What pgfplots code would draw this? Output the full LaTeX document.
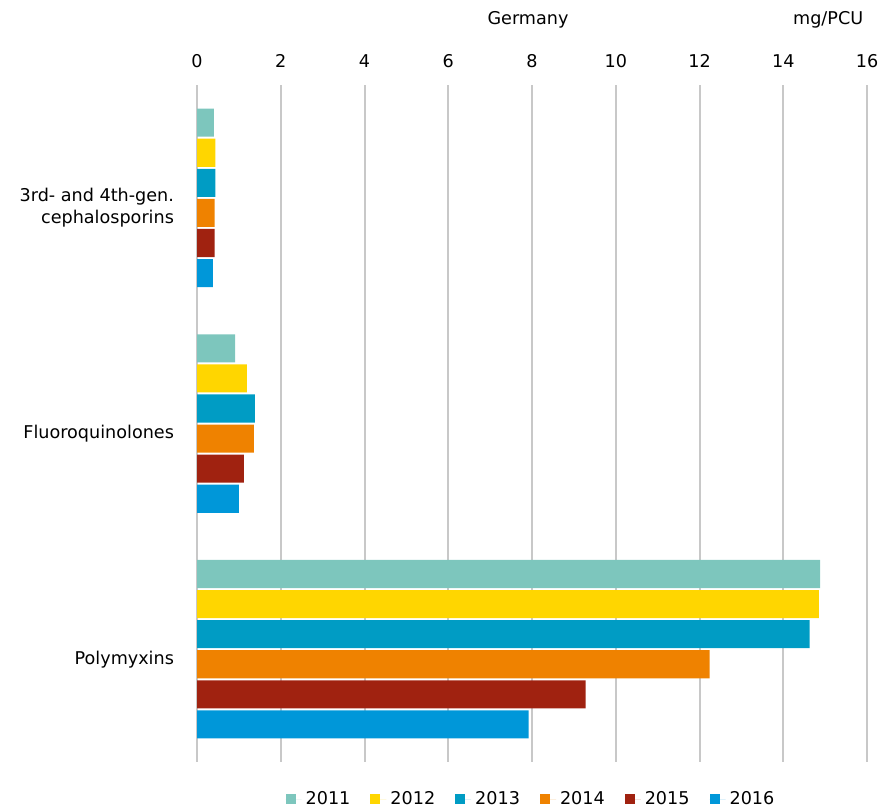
\documentclass[border=0pt]{standalone}
\usepackage{pgfplots}
\pgfplotsset{compat=1.18}
\usepackage{fontspec}
\setmainfont{DejaVu Sans}
\definecolor{c2011}{HTML}{7DC6BD}
\definecolor{c2012}{HTML}{FFD600}
\definecolor{c2013}{HTML}{009CC4}
\definecolor{c2014}{HTML}{EF8200}
\definecolor{c2015}{HTML}{A02210}
\definecolor{c2016}{HTML}{0097D9}
\definecolor{gridgray}{HTML}{C8C8C8}
\begin{document}
\begin{tikzpicture}
\useasboundingbox (0,0) rectangle (441pt,-405pt);
\begin{axis}[
  at={(98.5pt,-42.5pt)}, anchor=north west,
  scale only axis, width=335pt, height=338.5pt,
  xmin=0, xmax=16, ymin=-0.5, ymax=2.5, y dir=reverse,
  xtick={0,2,...,16}, xticklabel pos=upper,
  ytick={0,1,2},
  yticklabels={{3rd- and 4th-gen.\\cephalosporins},Fluoroquinolones,Polymyxins},
  axis line style={draw=none},
  major tick length=0pt,
  xmajorgrids, ymajorgrids=false,
  major grid style={draw=gridgray, line width=1pt},
  /pgf/number format/assume math mode=true,
  tick label style={font=\fontsize{8.8}{11}\selectfont},
  xticklabel style={yshift=5pt},
  yticklabel style={align=right, yshift=-5pt, xshift=-8pt},
  mybar/.style={xbar, draw=none, bar width=0.1244,
    legend image code/.code={\fill[##1] (0pt,-2.5pt) rectangle (5pt,2.5pt); \path (0pt,0pt) -- (8pt,0pt);}},
  legend columns=6,
  legend style={at={(axis description cs:0.5,-0.055)}, anchor=center, draw=none,
    font=\fontsize{8.8}{11}\selectfont,
    /tikz/every even column/.append style={column sep=8pt}},
  clip=false,
]
\addplot[mybar, fill=c2011, bar shift=-0.3333] coordinates {(0.40,0) (0.91,1) (14.88,2)};
\addplot[mybar, fill=c2012, bar shift=-0.2] coordinates {(0.44,0) (1.19,1) (14.85,2)};
\addplot[mybar, fill=c2013, bar shift=-0.0667] coordinates {(0.44,0) (1.38,1) (14.63,2)};
\addplot[mybar, fill=c2014, bar shift=0.0667] coordinates {(0.42,0) (1.36,1) (12.24,2)};
\addplot[mybar, fill=c2015, bar shift=0.2] coordinates {(0.42,0) (1.12,1) (9.28,2)};
\addplot[mybar, fill=c2016, bar shift=0.3333] coordinates {(0.38,0) (1.00,1) (7.92,2)};
\legend{2011,2012,2013,2014,2015,2016}
\node[font=\fontsize{8.8}{11}\selectfont] at (axis description cs:0.494,1.097) {Germany};
\node[font=\fontsize{8.8}{11}\selectfont] at (axis description cs:0.942,1.097) {mg/PCU};
\end{axis}
\end{tikzpicture}
\end{document}
